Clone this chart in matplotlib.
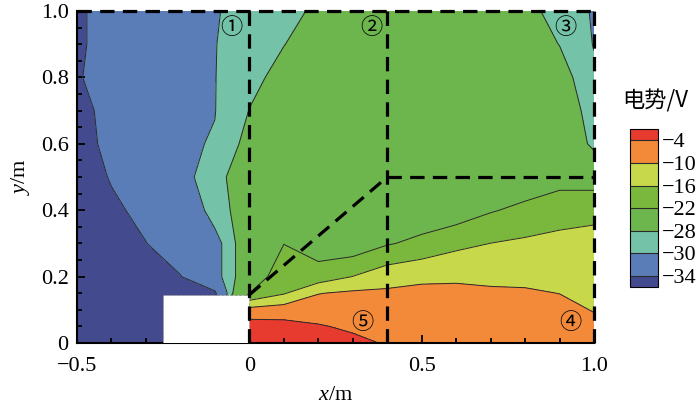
import numpy as np
import matplotlib
matplotlib.use("Agg")
import matplotlib.pyplot as plt
from matplotlib.patches import Rectangle

plt.rcParams['font.family'] = ['Liberation Serif', 'Noto Sans CJK SC', 'DejaVu Sans']
plt.rcParams['mathtext.fontset'] = 'custom'
plt.rcParams['mathtext.rm'] = 'Liberation Serif'
plt.rcParams['mathtext.it'] = 'Liberation Serif:italic'

# grid of potential values (V)
xs = [-0.5, -0.4, -0.3, -0.2, -0.1, 0.0, 0.1, 0.2, 0.3, 0.4, 0.5, 0.6, 0.7, 0.8, 0.9, 1.0]
ys = [0.0, 0.05, 0.1, 0.15, 0.2, 0.3, 0.4, 0.5, 0.6, 0.7, 0.8, 0.9, 1.0]
z_rows = [
    [-36, -35.5, -35.5, -35, -35, 0, 0, -1, -2.5, -4.5, -5.5, -6, -6.5, -6.8, -7, -8],
    [-36, -35.5, -35.5, -35, -35, -1, -2, -3.5, -5, -6, -6.5, -6.8, -7.2, -7.4, -7.8, -9],
    [-36, -35.5, -35.5, -35, -35, -8, -7, -7, -7.5, -7.5, -7.5, -7.6, -8, -8.2, -8.8, -10.2],
    [-36, -35.5, -35.2, -35, -34.5, -22, -16.5, -10.2, -9, -9, -8.8, -8.8, -9.3, -9.5, -10.05, -11],
    [-36, -35.5, -35, -34.1, -31, -26, -18.5, -19.5, -15.9, -12.5, -11, -10.8, -11, -11, -11.5, -12],
    [-36, -35, -34.05, -32.5, -31, -26, -22.1, -25, -26, -22.5, -20.5, -17.5, -15.95, -15, -14, -14.5],
    [-35.5, -34.5, -33.3, -32.8, -28.8, -27, -23.5, -24, -25, -25, -26, -25.5, -22.5, -20.5, -19, -17.2],
    [-35.5, -33.8, -32, -30.84, -28.74, -26.5, -24.5, -25, -25.5, -25.5, -25.5, -25.5, -25, -26, -24, -25.2],
    [-35.5, -33, -31.8, -30.3, -29.87, -27.2, -25.5, -25.5, -26, -25.5, -25.5, -25.5, -25.5, -25.5, -25, -28.7],
    [-35, -33, -32, -31, -30.05, -27.95, -26.5, -26, -26, -26, -26, -26, -26, -26, -26, -29.2],
    [-34.2, -33, -32, -31, -30.05, -28.6, -27.3, -26.5, -26.5, -26.5, -26.5, -26.5, -26.5, -26.5, -27, -29.6],
    [-34.4, -33, -32, -31, -30.05, -29.2, -28.05, -27, -26.8, -26.8, -26.8, -26.8, -26.8, -26.8, -28.05, -30.1],
    [-34.4, -33, -32, -31, -30.1, -29.5, -28.7, -27.6, -27, -26.8, -26.8, -26.8, -27, -27.33, -28.8, -30.2],
]

levels = [-34, -30, -28, -22, -16, -10, -4]
level_labels = ['\u221234', '\u221230', '\u221228', '\u221222', '\u221216', '\u221210', '\u22124']
level_colors = ['#434a8e', '#5a7db8', '#74c3a8', '#6db54d', '#79b83d',
                '#c8d84b', '#f28a3a', '#e63b2e']

# excluded region and measuring lines
box_x = [-0.25, 0.0]
box_y = [0.0, 0.145]
line_x = [[0, 0], [0.4, 0.4], [0.4, 1.0], [0, 0.4], [-0.5, 1.0], [1.0, 1.0]]
line_y = [[0, 1], [0, 1], [0.5, 0.5], [0.145, 0.5], [1, 1], [0, 1]]

marks = ['①', '②', '③', '④', '⑤']
mark_x = [-0.052, 0.354, 0.916, 0.93, 0.328]
mark_y = [0.95, 0.95, 0.95, 0.063, 0.063]

X, Y = np.meshgrid(xs, ys)
Z = np.array(z_rows)

fig = plt.figure(figsize=(7, 4.05), dpi=100)
ax = fig.add_axes([0.11, 0.153, 0.7386, 0.8198])

cs = ax.contourf(X, Y, Z, levels=levels, colors=level_colors, extend='both')
ax.contour(X, Y, Z, levels=levels, colors='#2a2a2a', linewidths=0.7, linestyles='solid')

ax.add_patch(Rectangle((box_x[0], box_y[0]), box_x[1] - box_x[0], box_y[1] - box_y[0],
                       facecolor='white', edgecolor='#999999', lw=0.6, ls='--', zorder=3))

for lx, ly in zip(line_x, line_y):
    ax.plot(lx, ly, color='black', lw=2.3, dashes=(4.5, 2.6), zorder=4, clip_on=False)

for m, mx, my in zip(marks, mark_x, mark_y):
    ax.text(mx, my, m, ha='center', va='center', fontsize=16, zorder=5,
            family=['Noto Sans CJK SC', 'DejaVu Sans'])

ax.set_xlim(-0.5, 1.0)
ax.set_ylim(0, 1.0)
ax.set_xticks([-0.5, 0, 0.5, 1.0])
ax.set_xticklabels(['\u22120.5', '0', '0.5', '1.0'])
ax.set_xticks(np.arange(-0.5, 1.01, 0.1), minor=True)
ax.set_yticks([0, 0.2, 0.4, 0.6, 0.8, 1.0])
ax.set_yticklabels(['0', '0.2', '0.4', '0.6', '0.8', '1.0'])
ax.set_yticks(np.arange(0, 1.01, 0.05), minor=True)
ax.tick_params(which='both', direction='in', labelsize=16, width=1.3)
ax.tick_params(which='major', length=6, pad=6)
ax.tick_params(axis='x', which='major', pad=10)
ax.tick_params(which='minor', length=3.5)
ax.spines['top'].set_visible(False)
ax.spines['right'].set_visible(False)
ax.spines['left'].set_linewidth(1.5)
ax.spines['bottom'].set_linewidth(1.5)
for t in ax.get_xticklines() + ax.get_yticklines():
    t.set_zorder(6)

ax.set_xlabel(r'$\mathit{x}$/m', fontsize=16, labelpad=7)
ax.set_ylabel(r'$\mathit{y}$/m', fontsize=16, labelpad=6)

cax = fig.add_axes([0.9, 0.291, 0.04, 0.39])
cb = fig.colorbar(cs, cax=cax, extendrect=True, extendfrac=1 / 12, drawedges=True)
cb.set_ticks(levels)
cb.set_ticklabels(level_labels)
cb.ax.tick_params(length=0, labelsize=16, pad=3)
cb.outline.set_linewidth(0.8)
cb.dividers.set_color('#2a2a2a')
cb.dividers.set_linewidth(0.8)
fig.text(0.936, 0.75, '电势/V', ha='center', va='center', fontsize=16,
         family=['Noto Sans CJK SC', 'DejaVu Sans'])

fig.savefig('out.png', dpi=100)
